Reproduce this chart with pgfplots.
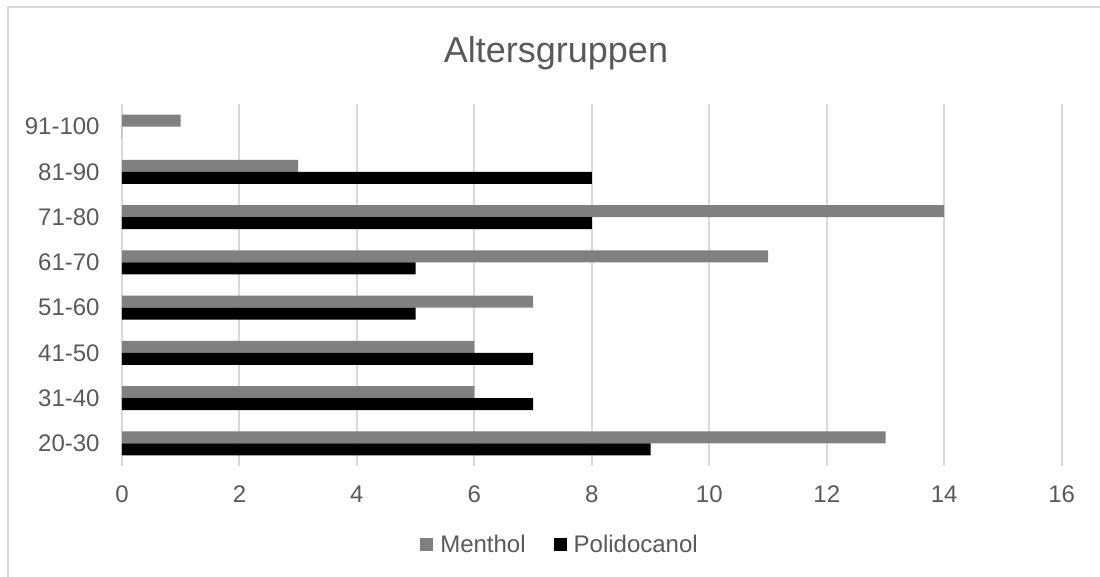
\documentclass[border=0pt]{standalone}
\usepackage{pgfplots}
\pgfplotsset{compat=1.18}
\usepackage{fontspec}
\setmainfont{Liberation Sans}
\definecolor{txt}{HTML}{595959}
\definecolor{gridc}{HTML}{D9D9D9}
\definecolor{menth}{HTML}{808080}
\begin{document}
\begin{tikzpicture}[x=1pt,y=1pt]
\path[use as bounding box] (-61,-55.5) rectangle (489,233);
\draw[gridc, line width=0.75pt] (-57,-60) -- (-57,229.5) -- (495,229.5);
\begin{axis}[
  at={(0,0)}, anchor=south west,
  scale only axis, width=469.85pt, height=181pt,
  xbar, bar width=6pt,
  xmin=0, xmax=16, ymin=-0.5, ymax=7.5,
  xtick={0,2,...,16},
  ytick={0,...,7},
  yticklabels={20-30,31-40,41-50,51-60,61-70,71-80,81-90,91-100},
  xmajorgrids, grid style={gridc, line width=1pt},
  axis x line*=bottom, axis y line*=left,
  x axis line style={draw=none},
  y axis line style={-, gridc, line width=1pt},
  major tick length=0pt,
  /pgf/number format/assume math mode=true,
  tick label style={font=\fontsize{12}{14.4}\selectfont, text=txt},
  xticklabel style={anchor=base, yshift=-18.5pt},
  yticklabel style={anchor=east, inner sep=0pt, xshift=-11pt},
  legend style={at={(0.4672,-0.2182)}, anchor=center, draw=none,
    font=\fontsize{12}{14.4}\selectfont, text=txt, inner sep=0pt,
    /tikz/every odd column/.append style={column sep=1.5pt},
    /tikz/every even column/.append style={column sep=12pt}},
  legend columns=2,
  legend image code/.code={\fill (0pt,-3.25pt) rectangle (6.5pt,3.25pt);},
]
\addplot[fill=menth, draw=none, bar shift=3pt] coordinates {
 (13,0) (6,1) (6,2) (7,3) (11,4) (14,5) (3,6) (1,7)};
\addlegendentry{Menthol}
\addplot[fill=black, draw=none, bar shift=-3pt] coordinates {
 (9,0) (7,1) (7,2) (5,3) (5,4) (8,5) (8,6) (0,7)};
\addlegendentry{Polidocanol}
\end{axis}
\node[anchor=base, font=\fontsize{18}{21.6}\selectfont, text=txt] at (217,201.85) {Altersgruppen};
\end{tikzpicture}
\end{document}
